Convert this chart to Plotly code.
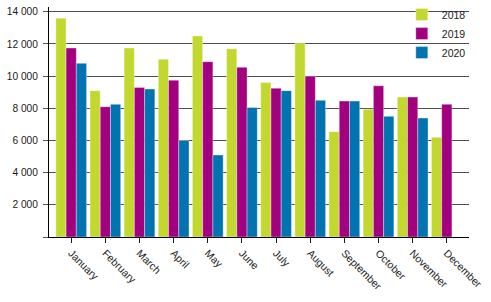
import plotly.graph_objects as go

months = ["January", "February", "March", "April", "May", "June", "July",
          "August", "September", "October", "November", "December"]
v2018 = [13600, 9100, 11750, 11050, 12500, 11700, 9600, 12050, 6550, 7950, 8700, 6200]
v2019 = [11750, 8100, 9300, 9750, 10900, 10550, 9250, 10000, 8450, 9400, 8700, 8250]
v2020 = [10800, 8250, 9200, 6000, 5100, 8050, 9100, 8500, 8450, 7500, 7400, None]

series = [("2018", v2018, "#c3d82e"), ("2019", v2019, "#a3007f"), ("2020", v2020, "#0073b0")]

fig = go.Figure()
for name, vals, col in series:
    fig.add_trace(go.Bar(x=months, y=vals, name=name, marker_color=col,
                         marker_line=dict(color="rgba(255,255,255,0.45)", width=0.8)))

font = dict(family="Liberation Sans, Arial, sans-serif", size=10.5, color="#1a1a1a")
yfont = dict(family="Liberation Sans, Arial, sans-serif", size=10.2, color="#1a1a1a")
fig.update_layout(
    width=491, height=302,
    margin=dict(l=49, r=22, t=7, b=65, autoexpand=False),
    paper_bgcolor="white", plot_bgcolor="white",
    barmode="group", bargap=0.1, bargroupgap=0,
    separators=", ",
    font=font,
    legend=dict(x=0.84, y=1.03, xanchor="left", yanchor="top", bgcolor="rgba(0,0,0,0)",
                font=font, itemwidth=30, tracegroupgap=0, traceorder="normal"),
    showlegend=True,
)
fig.update_xaxes(range=[-0.65, 11.65], tickangle=45, ticks="outside", ticklen=5,
                 tickcolor="#1a1a1a", showline=True, linecolor="#000", linewidth=1,
                 showgrid=False, tickfont=font)
fig.update_yaxes(range=[0, 14300], tickvals=[0, 2000, 4000, 6000, 8000, 10000, 12000, 14000],
                 ticktext=["", "2 000", "4 000", "6 000", "8 000", "10 000", "12 000", "14 000"],
                 ticks="outside", ticklen=5, tickcolor="#555", showline=True, linecolor="#000",
                 linewidth=1, showgrid=True, gridcolor="#4d4d4d", gridwidth=1,
                 zeroline=False, tickfont=yfont, ticklabelstandoff=3)

fig.write_html("out.html")
